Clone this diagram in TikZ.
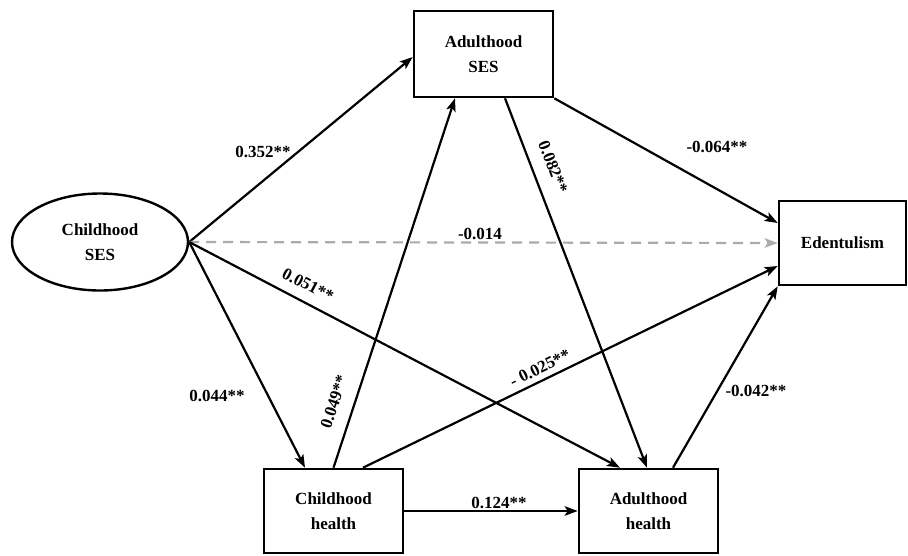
\documentclass[tikz,border=0pt]{standalone}
\usepackage{fontspec}
\setmainfont{Liberation Serif}
\usetikzlibrary{shapes.geometric,arrows.meta}
\begin{document}
\begin{tikzpicture}[x=1pt,y=-1pt,
  box/.style={draw,line width=2.6pt,rectangle,inner sep=0pt,align=center,
    font=\fontsize{17}{25}\selectfont\bfseries},
  oval/.style={draw,line width=2.4pt,ellipse,inner sep=0pt,align=center,
    font=\fontsize{17}{25}\selectfont\bfseries},
  path/.style={line width=2.2pt,-{Stealth[length=13pt,width=9.5pt,inset=3pt]}},
  weak/.style={line width=2.2pt,draw=black!33,dash pattern=on 10pt off 7pt,
    -{Stealth[length=13pt,width=9.5pt,inset=3pt]}},
  lab/.style={font=\fontsize{17}{17}\selectfont\bfseries,inner sep=1pt}]
\useasboundingbox (0,0) rectangle (908,555);
\node[oval,minimum width=176pt,minimum height=97pt] (cses) at (100,242) {Childhood\\SES};
\node[box,minimum width=139pt,minimum height=86pt] (ases) at (483.5,54) {Adulthood\\SES};
\node[box,minimum width=127pt,minimum height=84pt] (eden) at (842.5,243) {Edentulism};
\node[box,minimum width=139pt,minimum height=84pt] (chh) at (333.5,511) {Childhood\\health};
\node[box,minimum width=139pt,minimum height=84pt] (ahh) at (648.5,511) {Adulthood\\health};

\draw[path] (cses.east) -- ([yshift=-3pt]ases.west);
\draw[weak] (cses.east) -- (eden.west);
\draw[path] (cses.east) -- ([xshift=-28.5pt]ahh.north);
\draw[path] (cses.east) -- ([xshift=-28.5pt]chh.north);
\draw[path] (chh.north) -- ([xshift=-28.5pt]ases.south);
\draw[path] ([xshift=29.5pt]chh.north) -- ([yshift=-23pt]eden.west);
\draw[path] (chh.east) -- (ahh.west);
\draw[path] ([xshift=21.5pt]ases.south) -- ([xshift=-1.5pt]ahh.north);
\draw[path] (ases.south east) -- ([yshift=20pt]eden.west);
\draw[path] ([xshift=24.5pt]ahh.north) -- (eden.south west);

\node[lab] (l1) at (263,152) {0.352**};
\node[lab] (l2) at (717,147) {-0.064**};
\node[lab] (l3) at (480,234) {-0.014};
\node[lab] (l4) at (217,396) {0.044**};
\node[lab] (l5) at (756,391) {-0.042**};
\node[lab] (l6) at (499,503) {0.124**};
\node[lab,rotate=71.8] (l7) at (334,402) {0.049**};
\node[lab,rotate=-27.6] (l8) at (308,285) {0.051**};
\node[lab,rotate=26.1] (l9) at (540,368) {- 0.025**};
\node[lab,rotate=-69.1] (l10) at (553,167) {0.082**};
\end{tikzpicture}
\end{document}
